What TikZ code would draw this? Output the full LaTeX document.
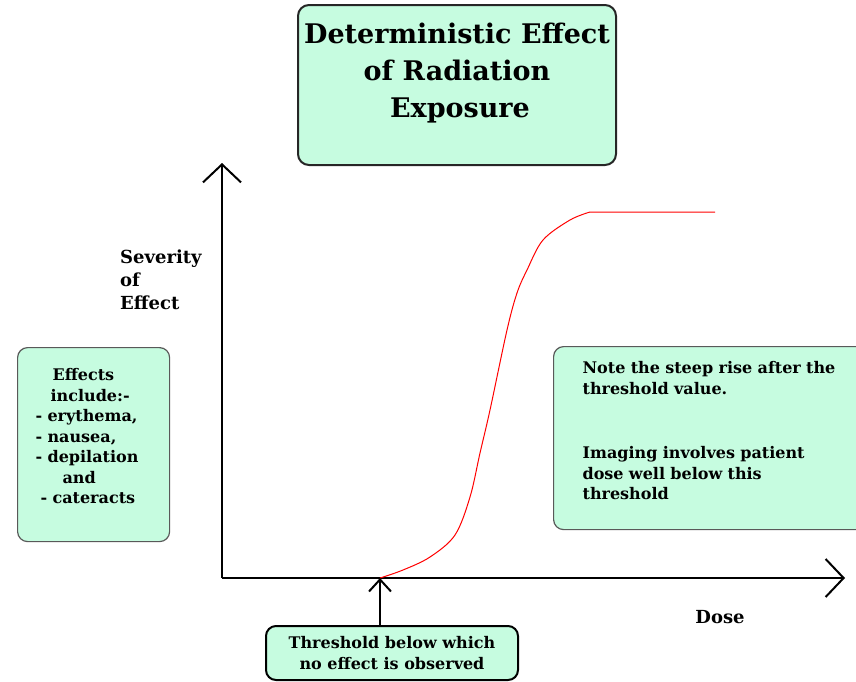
\documentclass[tikz,border=0pt]{standalone}
\usepackage{fontspec}
\setmainfont{DejaVu Serif}
\usepackage{xcolor}
\usetikzlibrary{arrows.meta, positioning}
\definecolor{mint}{RGB}{198,252,224}
\tikzstyle{notebox} = [rectangle, rounded corners=10pt, fill=mint, draw=black!65, line width=1.2pt, font=\bfseries\fontsize{16}{20.5}\selectfont]
\tikzstyle{titlebox} = [rectangle, rounded corners=11pt, fill=mint, draw=black!85, line width=2pt, font=\bfseries\fontsize{27}{37}\selectfont, align=center]
\tikzstyle{label} = [font=\bfseries\fontsize{18}{23}\selectfont, align=left]
\tikzstyle{axis} = [line width=2pt, -{Straight Barb[length=18pt, width=38pt]}]
\tikzstyle{pointer} = [line width=2pt, -{Straight Barb[length=12pt, width=22pt]}]
\tikzstyle{dosecurve} = [red, line width=1pt]

\begin{document}
\begin{tikzpicture}[x=1pt, y=-1pt]
        \useasboundingbox (0,0) rectangle (856,681);
        % Axes
        \coordinate (origin) at (222,578);
        \coordinate (ytip) at (222,163);
        \coordinate (xtip) at (845,578);
        \coordinate (threshold) at (380,578);
        \draw [axis] (origin) -- (ytip);
        \draw [axis] (origin) -- (xtip);

        % Nodes
        \node (title) [titlebox, anchor=north west, minimum width=318pt, minimum height=160pt] at (297,4) {Deterministic Effect\\ of Radiation\\ \hspace*{6pt}Exposure\\[-8pt]\mbox{}};
        \node (severity) [label, anchor=north west, inner sep=0pt] at (120,250) {Severity\\ of\\ Effect};
        \node (dose) [label] at (720,617) {Dose};
        \node (effects) [notebox, align=left, anchor=north west, text width=116pt, inner xsep=18pt, minimum height=194pt] at (17,347) {\hspace*{17pt}Effects\\ \hspace*{15pt}include:-\\ - erythema,\\ - nausea,\\ - depilation\\ \hspace*{27pt}and\\ \hspace*{5pt}- cateracts\\[-4pt]\mbox{}};
        \node (note) [notebox, align=left, anchor=north west, text width=280pt, inner xsep=29pt, minimum height=183pt] at (553,346) {Note the steep rise after the\\ threshold value.\\[44pt] Imaging involves patient\\ dose well below this\\ threshold\\[-6pt]\mbox{}};
        \node (thres) [notebox, draw=black, line width=2pt, align=center, anchor=north west, minimum width=252pt, minimum height=54pt] at (265,625) {Threshold below which\\ no effect is observed};

        % Curve
        \draw [dosecurve] plot [smooth, tension=0.55] coordinates {(threshold) (403,570) (430,557) (455,535) (470,497) (480,453) (490,410) (507,330) (517,293) (527,270) (543,240) (570,220) (590,212)} -- (715,212);

        % Threshold pointer
        \draw [pointer] (thres.north -| threshold) -- (threshold);
    \end{tikzpicture}
\end{document}
